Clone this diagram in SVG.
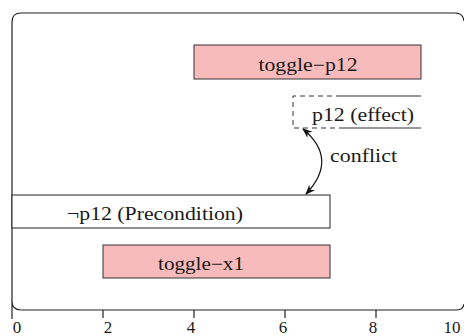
<svg xmlns="http://www.w3.org/2000/svg" width="464" height="336" viewBox="0 0 464 336">
<style>
text{font-family:"Liberation Serif","Times New Roman",serif;font-size:18px;fill:#1a1a1a}
.tick{font-size:17px}
.bar{fill:#f8bbbb;stroke:#333;stroke-width:1}
.pre{fill:#fff;stroke:#222;stroke-width:1}
.ax{stroke:#222;stroke-width:1.2;fill:none}
.dash{stroke:#333;stroke-width:1;fill:none;stroke-dasharray:5,4}
.sol{stroke:#333;stroke-width:1;fill:none}
</style>
<defs>
<marker id="ah" viewBox="0 0 10 10" refX="9" refY="5" markerWidth="10" markerHeight="10" markerUnits="userSpaceOnUse" orient="auto-start-reverse">
<path d="M0,1 L10,5 L0,9 L3,5 Z" fill="#111"/>
</marker>
</defs>
<g id="frame">
<path class="ax" d="M12,319 L12,22 Q12,13 21,13 L455,13 Q463,13 464,21 M12,301 Q12,310 21,310 L456,310 Q463,310 464,304"/>
<path class="ax" d="M103,310 V318 M194,310 V318 M285,310 V318 M376,310 V318"/>
<text class="tick" x="17" y="333" text-anchor="middle">0</text>
<text class="tick" x="108" y="333" text-anchor="middle">2</text>
<text class="tick" x="191" y="333" text-anchor="middle">4</text>
<text class="tick" x="283" y="333" text-anchor="middle">6</text>
<text class="tick" x="373" y="333" text-anchor="middle">8</text>
<text class="tick" x="452" y="333" text-anchor="middle">10</text>
</g>
<g id="toggle-p12">
<rect class="bar" x="194" y="45" width="227" height="34"/>
<text x="308" y="71" text-anchor="middle" textLength="99" lengthAdjust="spacingAndGlyphs">toggle−p12</text>
</g>
<g id="p12-effect">
<path class="dash" d="M341,96 L293,96 L293,128 L343,128"/>
<path class="sol" d="M341,96 L421,96 M343,128 L421,128"/>
<text x="363" y="121" text-anchor="middle" textLength="102" lengthAdjust="spacingAndGlyphs">p12 (effect)</text>
</g>
<g id="precondition">
<rect class="pre" x="12" y="195" width="318" height="33"/>
<text x="155" y="220" text-anchor="middle" textLength="176" lengthAdjust="spacingAndGlyphs">¬p12 (Precondition)</text>
</g>
<g id="toggle-x1">
<rect class="bar" x="103" y="245" width="227" height="33"/>
<text x="201" y="270" text-anchor="middle" textLength="86" lengthAdjust="spacingAndGlyphs">toggle−x1</text>
</g>
<g id="connectors">
<path d="M303,129 Q339,159 306,194" fill="none" stroke="#111" stroke-width="1.2" marker-start="url(#ah)" marker-end="url(#ah)"/>
<text x="330" y="162" textLength="67" lengthAdjust="spacingAndGlyphs">conflict</text>
</g>
</svg>
